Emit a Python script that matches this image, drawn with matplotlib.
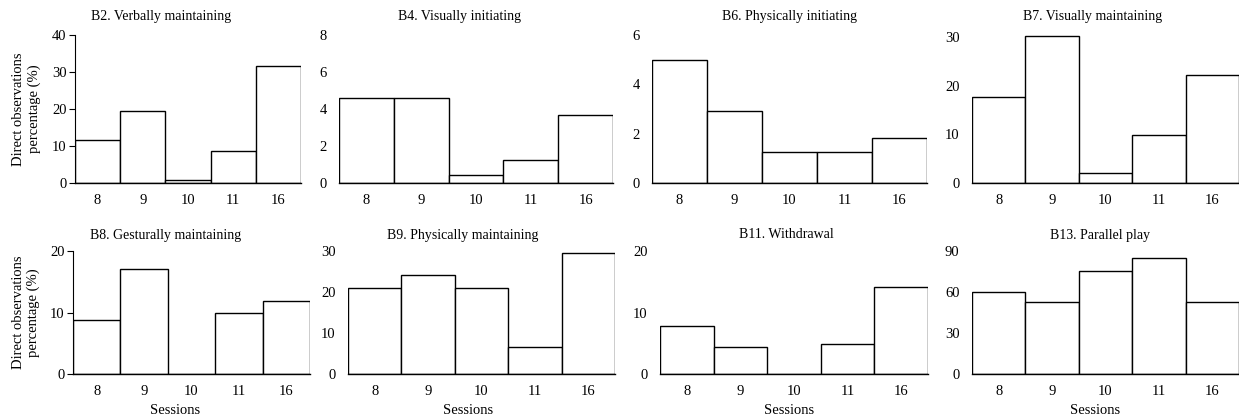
import matplotlib.pyplot as plt

plt.rcParams['font.family'] = ['Liberation Serif', 'DejaVu Serif']
plt.rcParams['font.size'] = 10

sessions = ['8', '9', '10', '11', '16']

titles = ['B2. Verbally maintaining', 'B4. Visually initiating',
          'B6. Physically initiating', 'B7. Visually maintaining',
          'B8. Gesturally maintaining', 'B9. Physically maintaining',
          'B11. Withdrawal', 'B13. Parallel play']

b2 = [11.6, 19.5, 0.8, 8.7, 31.6]
b4 = [4.6, 4.6, 0.45, 1.25, 3.7]
b6 = [5.0, 2.9, 1.25, 1.25, 1.83]
b7 = [17.8, 30.2, 2.1, 9.9, 22.3]
b8 = [8.7, 17.1, 0.0, 10.0, 11.9]
b9 = [20.9, 24.2, 20.9, 6.6, 29.4]
b11 = [7.8, 4.4, 0.0, 4.9, 14.1]
b13 = [59.9, 52.6, 75.3, 84.8, 53.0]
values = [b2, b4, b6, b7, b8, b9, b11, b13]

y_max = [40, 8, 6, 30.5, 20, 30, 20, 90]
y_ticks = [[0, 10, 20, 30, 40], [0, 2, 4, 6, 8], [0, 2, 4, 6], [0, 10, 20, 30],
           [0, 10, 20], [0, 10, 20, 30], [0, 10, 20], [0, 30, 60, 90]]

W, H = 1239, 418
# axes boxes in pixels: left, right, top, bottom
boxes = [(75, 301, 35, 183), (339, 613, 35, 183), (652, 927, 35, 183), (972, 1239, 35, 183),
         (73, 310, 251, 374), (348, 615, 251, 374), (660, 928, 251, 374), (972, 1239, 251, 374)]
title_x = [0.38, 0.44, 0.50, 0.45, 0.39, 0.43, 0.47, 0.48]
xlabel_x = [0, 0, 0, 0, 0.43, 0.45, 0.48, 0.46]

fig = plt.figure(figsize=(W / 100, H / 100), dpi=100)

for i in range(8):
    l, r, t, b = boxes[i]
    ax = fig.add_axes([l / W, 1 - b / H, (r - l) / W, (b - t) / H])
    ax.bar(range(5), values[i], width=1.0, color='white', edgecolor='black', linewidth=1.0)
    ax.set_xlim(-0.5, 4.5)
    ax.set_ylim(0, y_max[i])
    ax.set_yticks(y_ticks[i])
    ax.set_xticks(range(5))
    ax.set_xticklabels(sessions)
    for s in ['top', 'right']:
        ax.spines[s].set_visible(False)
    ax.spines['bottom'].set_linewidth(1.0)
    ax.tick_params(axis='x', length=0, pad=8, labelsize=10.5)
    if i % 4 == 0:
        ax.spines['left'].set_linewidth(0.8)
        ax.tick_params(axis='y', length=4, width=0.8, pad=2, labelsize=10.5)
        ax.set_ylabel('Direct observations\npercentage (%)', linespacing=1.2,
                      labelpad=8 if i == 0 else 7, fontsize=10.5)
    else:
        ax.spines['left'].set_visible(False)
        ax.tick_params(axis='y', length=0, pad=9, labelsize=10.5)
    ax.set_title(titles[i], x=title_x[i], pad=11 if i < 4 else 9, fontsize=10)
    if i >= 4:
        ax.set_xlabel('Sessions', fontsize=10.5)
        ax.xaxis.set_label_coords(xlabel_x[i], -0.24)

fig.savefig('out.png', dpi=100)
